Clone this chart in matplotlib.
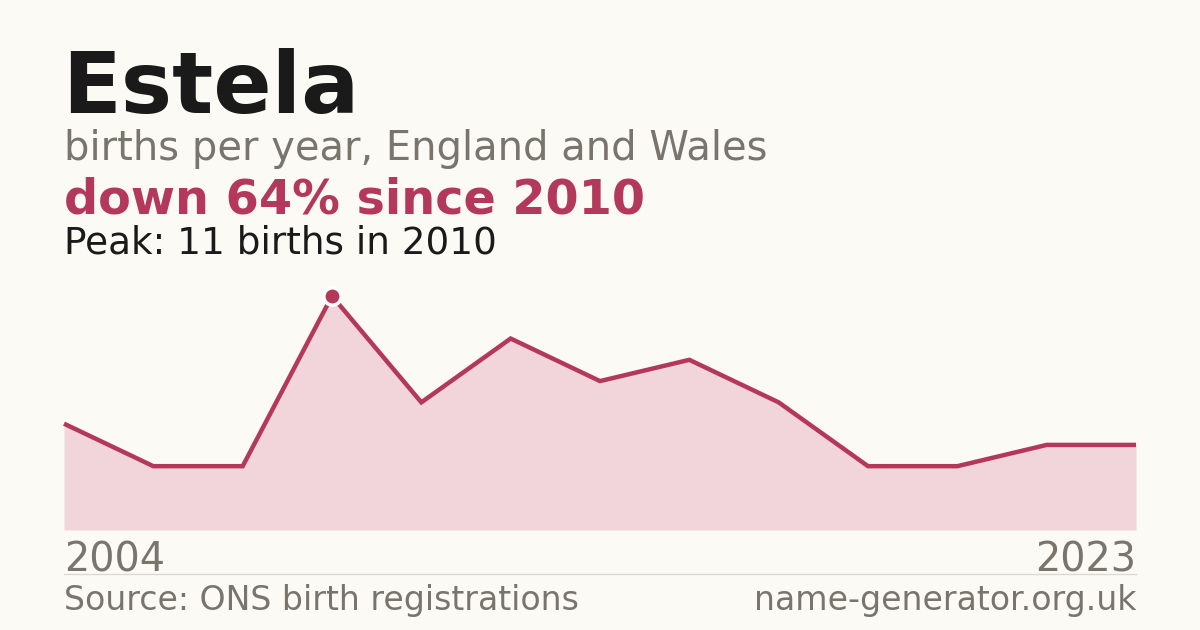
import matplotlib.pyplot as plt

# Years with registered births (names with fewer than 3 births are not published)
YEARS = [2004, 2006, 2007, 2010, 2011, 2013, 2014, 2016, 2017, 2019, 2020, 2022, 2023]
BIRTHS = [5, 3, 3, 11, 6, 9, 7, 8, 6, 3, 3, 4, 4]

NAME = "Estela"
SUBTITLE = "births per year, England and Wales"
SOURCE = "Source: ONS birth registrations"
SITE = "name-generator.org.uk"

BG = "#fbfaf5"
DARK = "#1a1a1a"
GREY = "#79756d"
RED = "#b3385a"
FILL = "#f2d5da"

W, H = 1200, 630


def px_x(x):
    return x / W


def px_y(y):
    return 1 - y / H


def main() -> None:
    peak_index = BIRTHS.index(max(BIRTHS))
    peak_year = YEARS[peak_index]
    change = (BIRTHS[-1] - BIRTHS[peak_index]) / BIRTHS[peak_index] * 100

    fig = plt.figure(figsize=(W / 100, H / 100), dpi=100, facecolor=BG)

    # plot area: x 64..1136 px, y 270..530 px
    ax = fig.add_axes([px_x(64), px_y(530), px_x(1136 - 64), (530 - 270) / H])
    ax.set_facecolor(BG)
    positions = list(range(len(BIRTHS)))
    ax.fill_between(positions, BIRTHS, 0, color=FILL, linewidth=0)
    ax.plot(positions, BIRTHS, color=RED, linewidth=3.2, solid_joinstyle="miter",
            solid_capstyle="butt", clip_on=False)
    ax.plot(peak_index, BIRTHS[peak_index], "o", markersize=12.5, color=RED,
            markeredgecolor="white", markeredgewidth=2.5, clip_on=False, zorder=5)
    ax.set_xlim(0, len(BIRTHS) - 1)
    ax.set_ylim(0, max(BIRTHS) * (530 - 270) / (530 - 296))
    ax.axis("off")

    fig.text(px_x(62), px_y(113), NAME, fontsize=62, fontweight="bold",
             color=DARK, va="baseline", ha="left")
    fig.text(px_x(64), px_y(160), SUBTITLE, fontsize=28.8, color=GREY,
             va="baseline", ha="left")
    fig.text(px_x(64), px_y(214), f"down {abs(change):.0f}% since {peak_year}",
             fontsize=34.4, fontweight="bold", color=RED, va="baseline", ha="left")
    fig.text(px_x(64), px_y(254), f"Peak: {max(BIRTHS)} births in {peak_year}",
             fontsize=26.9, color=DARK, va="baseline", ha="left")

    fig.text(px_x(64), px_y(571), str(YEARS[0]), fontsize=28.6, color=GREY,
             va="baseline", ha="left")
    fig.text(px_x(1136), px_y(571), str(YEARS[-1]), fontsize=28.6, color=GREY,
             va="baseline", ha="right")

    fig.add_artist(plt.Line2D([px_x(64), px_x(1136)], [px_y(574), px_y(574)],
                              color="#ddd8d0", linewidth=1))

    fig.text(px_x(64), px_y(610), SOURCE, fontsize=23.9, color=GREY,
             va="baseline", ha="left")
    fig.text(px_x(1136), px_y(610), SITE, fontsize=23.9, color=GREY,
             va="baseline", ha="right")

    fig.savefig("out.png", dpi=100, facecolor=BG)
    plt.close(fig)


if __name__ == "__main__":
    main()
